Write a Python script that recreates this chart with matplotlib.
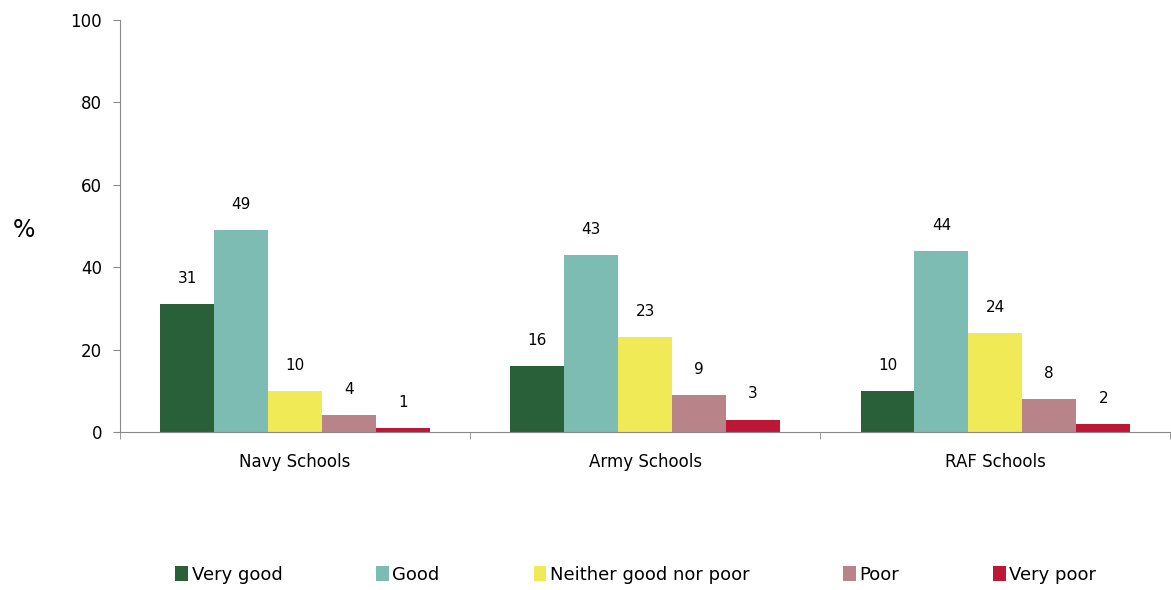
import numpy as np
import matplotlib.pyplot as plt
from matplotlib.ticker import FixedLocator

# Data
schools = ['Navy Schools', 'Army Schools', 'RAF Schools']
ratings = ['Very good', 'Good', 'Neither good nor poor', 'Poor', 'Very poor']
very_good = [31, 16, 10]
good = [49, 43, 44]
neither = [10, 23, 24]
poor = [4, 9, 8]
very_poor = [1, 3, 2]
colors = ['#29603A', '#7DBCB2', '#EFEA55', '#B8848A', '#BE1636']

series = [very_good, good, neither, poor, very_poor]

fig = plt.figure(figsize=(11.71, 5.90), dpi=100)
ax = fig.add_axes([0.1025, 0.268, 0.897, 0.698])

x = np.arange(len(schools))
width = 0.154
for i, (vals, name, col) in enumerate(zip(series, ratings, colors)):
    pos = x + (i - 2) * width
    ax.bar(pos, vals, width, color=col, label=name)
    for p, v in zip(pos, vals):
        ax.annotate(str(v), (p, v), xytext=(0, 13), textcoords='offset points',
                    ha='center', va='bottom', fontsize=11)

ax.set_xlim(-0.5, 2.5)
ax.set_ylim(0, 100)
ax.set_yticks(range(0, 101, 20))
ax.set_xticks(x)
ax.set_xticklabels(schools, fontsize=12)
ax.xaxis.set_minor_locator(FixedLocator([-0.5, 0.5, 1.5, 2.5]))
ax.tick_params(axis='x', which='major', length=0, pad=15)
ax.tick_params(axis='x', which='minor', length=5, color='#888888')
ax.tick_params(axis='y', labelsize=12, length=5, pad=8, color='#888888')
for s in ['top', 'right']:
    ax.spines[s].set_visible(False)
ax.spines['left'].set_color('#888888')
ax.spines['bottom'].set_color('#888888')

fig.text(0.011, 0.61, '%', fontsize=17, ha='left', va='center')

fig.legend(loc='center', bbox_to_anchor=(0.543, 0.026), ncol=5, frameon=False,
           fontsize=13, handlelength=0.7, handleheight=0.9, handletextpad=0.2,
           columnspacing=5.2)

plt.savefig('out.png', dpi=100)
